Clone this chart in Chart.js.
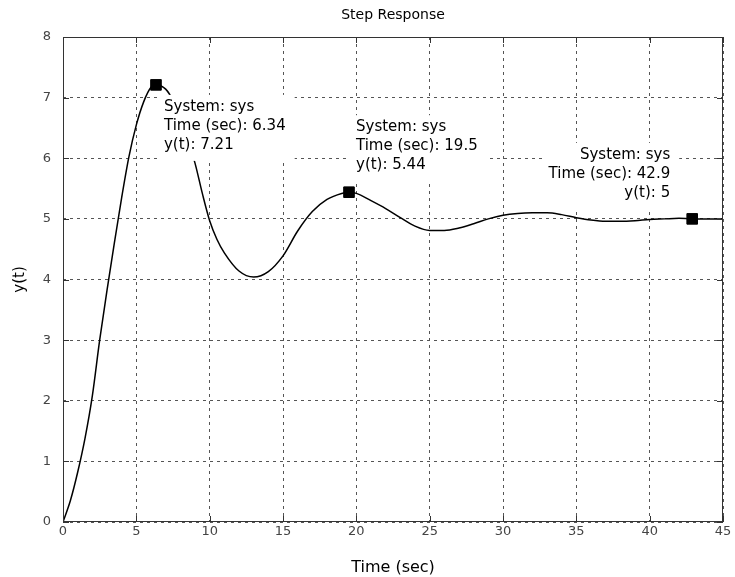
<!DOCTYPE html>
<html>
<head>
<meta charset="utf-8">
<script src="https://cdn.jsdelivr.net/npm/chart.js@4.4.1/dist/chart.umd.min.js"></script>
<style>
  body { margin: 0; background: #fff; }
  #wrap { width: 735px; height: 577px; }
</style>
</head>
<body>
<div id="wrap"><canvas id="js--chart" width="735" height="577"></canvas></div>
<script>
// step response
const time = [0, 0.5, 1, 1.5, 2, 2.5, 3, 3.5, 4, 4.5, 5, 5.5, 6, 6.34, 7, 7.5, 8, 8.5, 9, 9.5, 10, 10.5,
    11, 12, 13, 14, 15, 16, 17, 18, 19, 19.5, 20, 21, 22, 23, 24, 25, 26, 27, 28, 29, 30,
    31, 32, 33, 34, 35, 36, 37, 38, 39, 40, 41, 42, 42.9, 44, 45]
const response = [0, 0.35, 0.82, 1.38, 2.08, 3.0, 3.82, 4.6, 5.35, 6.03, 6.55, 6.93, 7.17, 7.21, 7.14, 6.95, 6.64, 6.3, 5.92, 5.42, 4.97, 4.66,
    4.44, 4.14, 4.04, 4.13, 4.39, 4.8, 5.12, 5.32, 5.42, 5.44, 5.42, 5.3, 5.17, 5.02, 4.88, 4.81, 4.81, 4.85, 4.92, 5.0, 5.06,
    5.09, 5.1, 5.1, 5.07, 5.02, 4.98, 4.96, 4.96, 4.97, 4.99, 5.0, 5.01, 5.0, 5.0, 5.0]

// data tips
const tipTime = [6.34, 19.5, 42.9]
const tipValue = [7.21, 5.44, 5]
const tipSystem = ["sys", "sys", "sys"]

const chartTitle = "Step Response"
const xTitle = "Time (sec)"
const yTitle = "y(t)"

// where each tip's text sits relative to its marker
const tipPlace = [
    {dx: 8, dy: 22, align: "left"},
    {dx: 7, dy: -65, align: "left"},
    {dx: -22, dy: -64, align: "right"},
]

const tipFont = "15px 'DejaVu Sans'"

const tipsAndFrame = {
    id: "tipsAndFrame",
    afterDatasetsDraw(chart) {
        const ctx = chart.ctx
        const a = chart.chartArea
        const x = chart.scales.x
        const y = chart.scales.y
        ctx.save()
        ctx.setLineDash([])

        // data tip text on white background
        ctx.font = tipFont
        ctx.textBaseline = "middle"
        tipTime.forEach(function(t, i) {
            const px = x.getPixelForValue(t)
            const py = y.getPixelForValue(tipValue[i])
            const p = tipPlace[i]
            const lines = [
                "System: " + tipSystem[i],
                "Time (sec): " + t,
                "y(t): " + tipValue[i],
            ]
            const w = Math.max(...lines.map(l => ctx.measureText(l).width))
            const ax = px + p.dx
            const top = py + p.dy
            const left = p.align === "left" ? ax : ax - w
            ctx.fillStyle = "#fff"
            ctx.fillRect(left - 6, top - 12, w + 15, 19 * 2 + 28)
            ctx.fillStyle = "#000"
            ctx.textAlign = p.align
            lines.forEach(function(l, k) {
                ctx.fillText(l, ax, top + k * 19)
            })
        })

        // axes box
        ctx.strokeStyle = "#333"
        ctx.lineWidth = 1
        ctx.strokeRect(a.left + 0.5, a.top + 0.5, a.width - 1, a.height - 1)

        // inward tick marks
        ctx.beginPath()
        x.ticks.forEach(function(t) {
            const px = Math.round(x.getPixelForValue(t.value)) + 0.5
            ctx.moveTo(px, a.bottom); ctx.lineTo(px, a.bottom - 6)
            ctx.moveTo(px, a.top); ctx.lineTo(px, a.top + 6)
        })
        y.ticks.forEach(function(t) {
            const py = Math.round(y.getPixelForValue(t.value)) + 0.5
            ctx.moveTo(a.left, py); ctx.lineTo(a.left + 6, py)
            ctx.moveTo(a.right, py); ctx.lineTo(a.right - 6, py)
        })
        ctx.stroke()

        // title centred over the axes
        ctx.font = "14px 'DejaVu Sans'"
        ctx.fillStyle = "#000"
        ctx.textAlign = "center"
        ctx.textBaseline = "middle"
        ctx.fillText(chartTitle, (a.left + a.right) / 2, 15)
        ctx.restore()
    }
}

const config = {
    type: "line",
    data: {
        datasets: [
            {
                label: "sys",
                data: time.map((t, i) => ({x: t, y: response[i]})),
                borderColor: "#000",
                borderWidth: 1.5,
                pointRadius: 0,
                cubicInterpolationMode: "monotone",
                fill: false,
            },
            {
                type: "scatter",
                label: "tips",
                data: tipTime.map((t, i) => ({x: t, y: tipValue[i]})),
                pointStyle: "rect",
                pointRadius: 7.5,
                backgroundColor: "#000",
                borderColor: "#000",
            },
        ]
    },
    options: {
        responsive: false,
        animation: false,
        layout: {padding: {left: 0, right: 12, top: 37, bottom: 0}},
        plugins: {
            legend: {display: false},
            tooltip: {enabled: false},
        },
        scales: {
            x: {
                type: "linear",
                min: 0,
                max: 45,
                ticks: {stepSize: 5, color: "#444", padding: 2, maxRotation: 0,
                    font: {family: "DejaVu Sans", size: 13}},
                grid: {color: "#555", lineWidth: 1, drawTicks: false},
                border: {display: false, dash: [3, 4]},
                title: {display: true, text: xTitle, color: "#000",
                    font: {family: "DejaVu Sans", size: 16}, padding: {top: 0, bottom: 0}},
                afterFit: function(scale) { scale.height = 55 },
            },
            y: {
                min: 0,
                max: 8,
                ticks: {stepSize: 1, color: "#444", padding: 12,
                    font: {family: "DejaVu Sans", size: 13}},
                grid: {color: "#555", lineWidth: 1, drawTicks: false},
                border: {display: false, dash: [3, 4]},
                title: {display: true, text: yTitle, color: "#000",
                    font: {family: "DejaVu Sans", size: 15}, padding: {top: 11, bottom: 0}},
                afterFit: function(scale) { scale.width = 63 },
            },
        },
    },
    plugins: [tipsAndFrame],
}

new Chart(document.getElementById("js--chart"), config)
</script>
</body>
</html>
